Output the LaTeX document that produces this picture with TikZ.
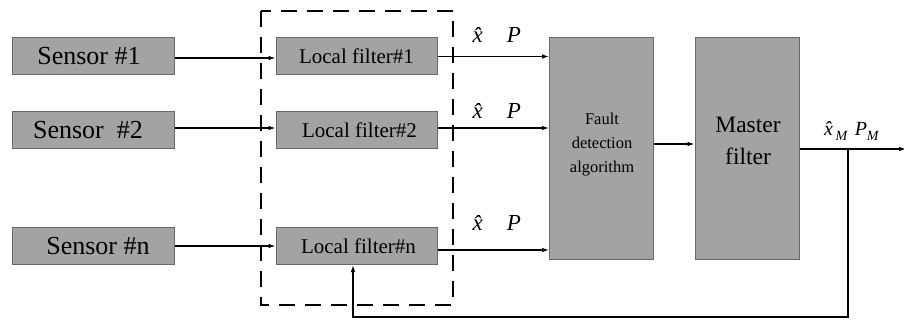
\documentclass[tikz,border=0pt]{standalone}
\usepackage{fontspec}
\setmainfont{Liberation Serif}
\usetikzlibrary{arrows.meta,calc}
\definecolor{boxfill}{RGB}{163,163,163}
\definecolor{boxline}{RGB}{105,105,105}
\newcommand{\xhat}{\textit{\^{x}}}
\newcommand{\subM}{\raisebox{-5pt}{\fontsize{14}{15}\selectfont\textit{M}}}
\begin{document}
\begin{tikzpicture}[x=1pt,y=-1pt,
  blk/.style={draw=boxline,line width=1pt,fill=boxfill,inner sep=0pt,anchor=center},
  sensorbox/.style={blk,minimum width=162pt,minimum height=37pt,font=\rmfamily\fontsize{26}{30}\selectfont},
  localbox/.style={blk,minimum width=161pt,minimum height=37pt,font=\rmfamily\fontsize{21}{24}\selectfont},
  bigbox/.style={blk,minimum width=104pt,minimum height=221pt},
  arr/.style={line width=1.1pt,-{Latex[length=7pt,width=4.5pt]}},
  lbl/.style={inner sep=0pt,font=\rmfamily\fontsize{23}{24}\selectfont}]
\useasboundingbox (0,0) rectangle (904,320);
% dashed group
\draw[line width=1.5pt,dash pattern=on 16pt off 10pt] (261,11) rectangle (453,305);
% sensors
\node[sensorbox] (s1) at (93,56.5) {\hspace*{-8pt}Sensor \#1};
\node[sensorbox] (s2) at (93,130) {\hspace*{-10pt}Sensor\ \ \#2};
\node[sensorbox] (sn) at (93,246) {\hspace*{10pt}Sensor \#n};
% local filters
\node[localbox] (l1) at (356.5,56.5) {Local filter\#1};
\node[localbox] (l2) at (356.5,130) {\hspace*{6pt}Local filter\#2};
\node[localbox] (lnn) at (356.5,246) {\hspace*{4pt}Local filter\#n};
% big boxes
\node[bigbox] (fd) at (601.5,148.5) {};
\node[font=\rmfamily\fontsize{16.5}{24}\selectfont,align=center,inner sep=0pt] (fdt) at (602,145) {Fault\\detection\\algorithm};
\node[bigbox] (mf) at (747,148.5) {};
\node[font=\rmfamily\fontsize{23.5}{32}\selectfont,align=center,inner sep=0pt] (mft) at (748,141) {Master\\filter};
% sensor -> local
\draw[arr] ([yshift=-1.5pt]s1.east) -- ([yshift=-1.5pt]l1.west);
\draw[arr] ([yshift=2pt]s2.east) -- ([yshift=2pt]l2.west);
\draw[arr] (sn.east) -- (lnn.west);
% local -> fault
\draw[arr] (l1.east) -- (l1.east -| fd.west);
\draw[arr] ([yshift=2pt]l2.east) -- ([yshift=2pt]l2.east -| fd.west);
\draw[arr] ([yshift=-4pt]lnn.east) -- ([yshift=-4pt]lnn.east -| fd.west);
% fault -> master
\draw[arr] (fd.east |- 0,144) -- (mf.west |- 0,144);
% output
\coordinate (br) at (848,149);
\coordinate (outend) at (906,149);
\coordinate (fb1) at (848,317);
\coordinate (fb2) at (353,317);
\draw[arr] (mf.east |- br) -- (outend);
\draw[arr] (br) -- (fb1) -- (fb2) -- (fb2 |- lnn.south);
% labels
\node[lbl] (xh1) at (482,35) {\xhat};
\node[lbl] (p1) at (514,35) {\textit{P}};
\node[lbl] (xh2) at (482,111) {\xhat};
\node[lbl] (p2) at (514,111) {\textit{P}};
\node[lbl] (xh3) at (482,223) {\xhat};
\node[lbl] (p3) at (514,223) {\textit{P}};
\node[lbl,font=\rmfamily\fontsize{20}{22}\selectfont] (xm) at (836,131) {\xhat\kern-5pt\subM};
\node[lbl,font=\rmfamily\fontsize{20}{22}\selectfont] (pm) at (867,131) {\textit{P}\subM};
\end{tikzpicture}
\end{document}
